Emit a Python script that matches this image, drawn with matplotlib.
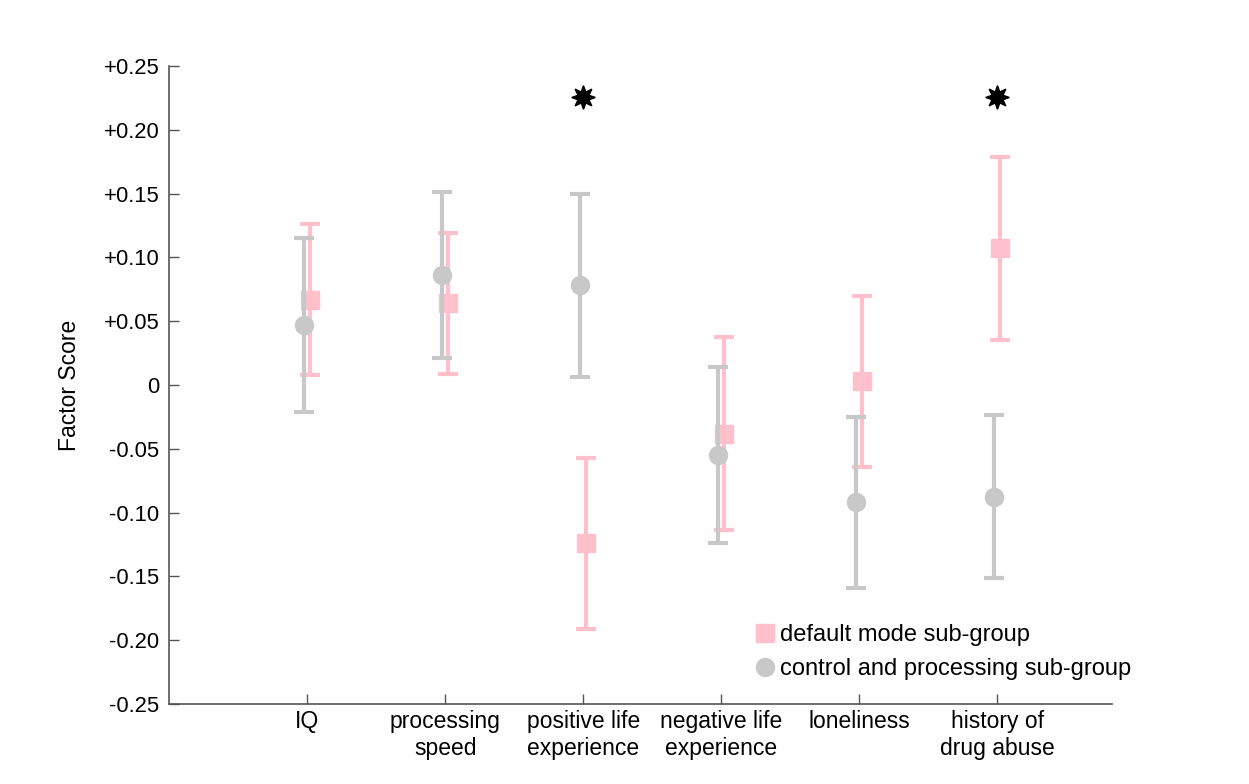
import matplotlib
matplotlib.use("Agg")
import matplotlib.pyplot as plt
from matplotlib.lines import Line2D
import numpy as np

plt.rcParams['font.family'] = ['Liberation Sans', 'DejaVu Sans']

categories = ["IQ", "processing\nspeed", "positive life\nexperience",
              "negative life\nexperience", "loneliness", "history of\ndrug abuse"]
dm_mean = [0.067, 0.064, -0.124, -0.038, 0.003, 0.107]
dm_err = [0.059, 0.055, 0.067, 0.076, 0.067, 0.072]
cp_mean = [0.047, 0.086, 0.078, -0.055, -0.092, -0.0875]
cp_err = [0.068, 0.065, 0.072, 0.069, 0.067, 0.064]
sig_idx = [2, 5]
sig_y = 0.226
yticks = [-0.25, -0.20, -0.15, -0.10, -0.05, 0, 0.05, 0.10, 0.15, 0.20, 0.25]
ytick_labels = ["-0.25", "-0.20", "-0.15", "-0.10", "-0.05", "0",
                "+0.05", "+0.10", "+0.15", "+0.20", "+0.25"]
legend_labels = ["default mode sub-group", "control and processing sub-group"]

pink = "#ffc0cb"
gray = "#c8c8c8"

fig = plt.figure(figsize=(12.49, 7.84), dpi=100)
ax = fig.add_axes([0.1353, 0.102, 0.755, 0.8138])

x = np.arange(1, len(categories) + 1)

ax.errorbar(x + 0.02, dm_mean, yerr=dm_err, fmt='s', color=pink, ecolor=pink,
            markersize=13, elinewidth=3, capsize=7.5, capthick=3, zorder=2)
ax.errorbar(x - 0.025, cp_mean, yerr=cp_err, fmt='o', color=gray, ecolor=gray,
            markersize=13, elinewidth=3, capsize=7.5, capthick=3, zorder=3)

ax.plot(x[sig_idx], [sig_y] * len(sig_idx), linestyle='none',
        marker=(8, 1, 0), markersize=17, color='black')

ax.set_xlim(0, 6.83)
ax.set_ylim(-0.25, 0.25)
ax.set_xticks(x)
ax.set_xticklabels(categories, fontsize=16.5, linespacing=1.25)
ax.set_yticks(yticks)
ax.set_yticklabels(ytick_labels, fontsize=15.8)
ax.set_ylabel("Factor Score", fontsize=16.5, labelpad=16)

for s in ['top', 'right']:
    ax.spines[s].set_visible(False)
for s in ['left', 'bottom']:
    ax.spines[s].set_color('#555555')
    ax.spines[s].set_linewidth(1.2)
ax.tick_params(direction='in', length=7, width=1.0, color='#555555', pad=7,
               labelcolor='black')
ax.tick_params(axis='x', pad=4)

handles = [Line2D([], [], linestyle='none', marker='s', markersize=13, color=pink),
           Line2D([], [], linestyle='none', marker='o', markersize=13, color=gray)]
ax.legend(handles, legend_labels, loc='upper left', bbox_to_anchor=(0.61, 0.14),
          frameon=False, fontsize=17, handletextpad=0.1, handlelength=1.0,
          labelspacing=0.52, borderaxespad=0)

fig.savefig("out.png", dpi=100)
